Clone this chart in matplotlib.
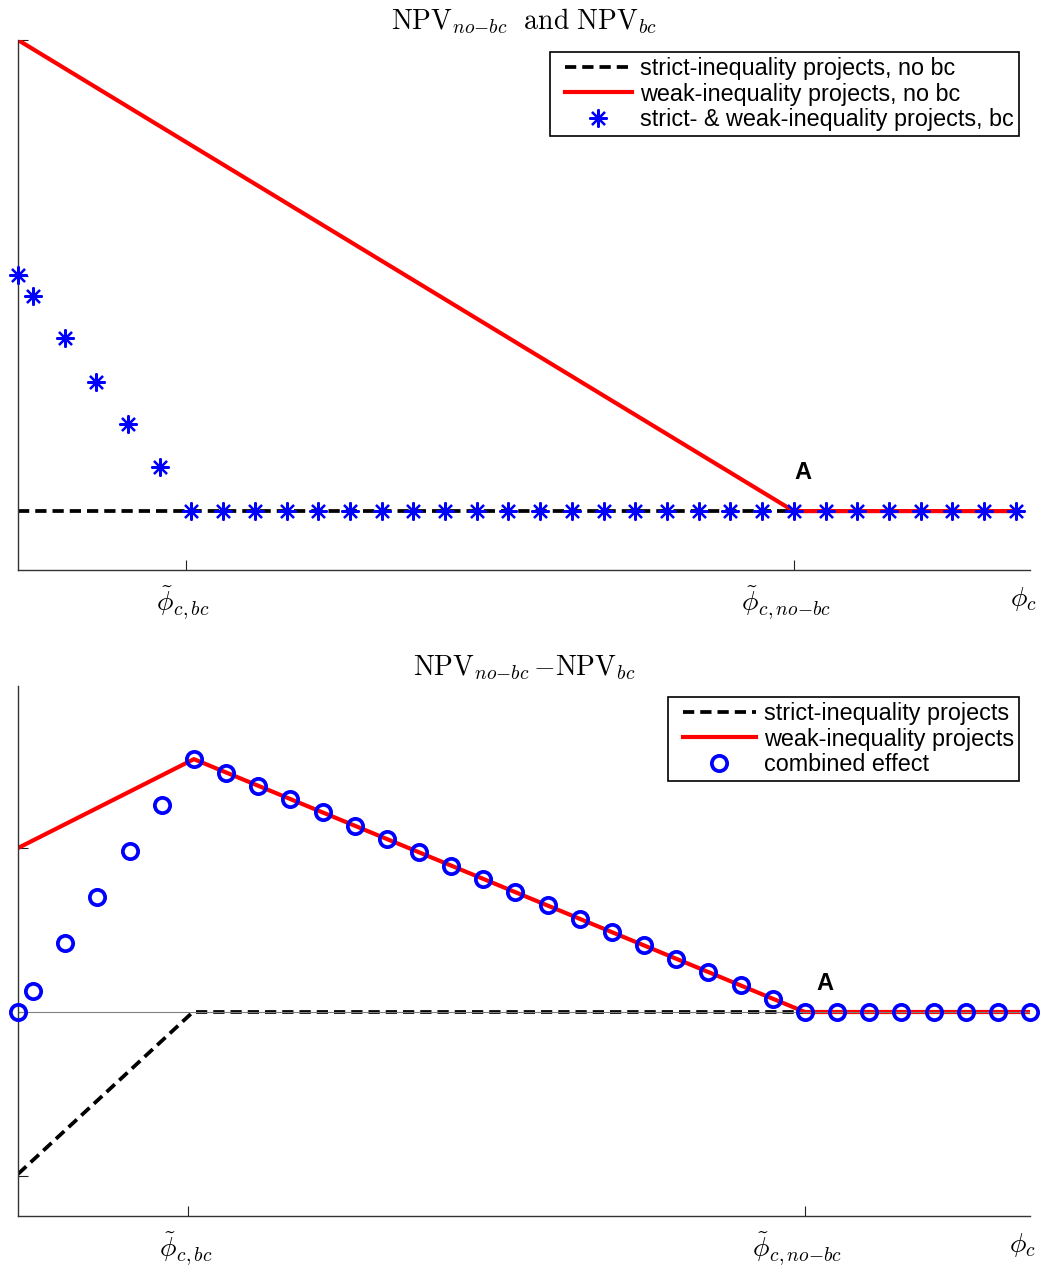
import matplotlib
matplotlib.use("Agg")
import matplotlib.pyplot as plt
from matplotlib.lines import Line2D
from matplotlib.legend_handler import HandlerLine2D
from matplotlib.transforms import ScaledTranslation

plt.rcParams['mathtext.fontset'] = 'cm'
plt.rcParams['font.family'] = ['Liberation Sans', 'DejaVu Sans']

# phi grid (arbitrary units, step = 1)
phi = [0.0, 0.47, 1.47, 2.47, 3.47, 4.47, 5.47, 6.47, 7.47, 8.47, 9.47, 10.47,
       11.47, 12.47, 13.47, 14.47, 15.47, 16.47, 17.47, 18.47, 19.47, 20.47,
       21.47, 22.47, 23.47, 24.47, 25.47, 26.47, 27.47, 28.47, 29.47, 30.47, 31.47]

phi_bc = 5.3
phi_nobc = 24.47

# top panel: NPV levels
strict_nobc_x = [0.0, 31.47]
strict_nobc_y = [0.0, 0.0]
weak_nobc_x = [0.0, 24.47, 31.47]
weak_nobc_y = [1.0, 0.0, 0.0]
bc_top = [0.501, 0.456, 0.367, 0.274, 0.185, 0.093, 0, 0, 0, 0, 0, 0, 0, 0, 0, 0,
          0, 0, 0, 0, 0, 0, 0, 0, 0, 0, 0, 0, 0, 0, 0, 0, 0]

# bottom panel: differences
strict_diff_x = [0.0, 5.44, 31.47]
strict_diff_y = [-0.494, 0.0, 0.0]
weak_diff_x = [0.0, 5.47, 24.47, 31.47]
weak_diff_y = [0.5, 0.771, 0.0, 0.0]
combined = [0.0, 0.064, 0.210, 0.351, 0.491, 0.631, 0.771, 0.730, 0.690, 0.649,
            0.609, 0.568, 0.527, 0.487, 0.446, 0.406, 0.365, 0.325, 0.284, 0.244,
            0.203, 0.162, 0.122, 0.081, 0.041, 0.0, 0, 0, 0, 0, 0, 0, 0]

xtick_labels = [r'$\tilde{\phi}_{c,bc}$', r'$\tilde{\phi}_{c,no{-}bc}$', r'$\phi_c$']

dash = (0, (3, 1.6))
star = (8, 2, 0)


def style_axes(ax, xticks, yticks):
    for s in ['top', 'right']:
        ax.spines[s].set_visible(False)
    for s in ['left', 'bottom']:
        ax.spines[s].set_color('#333333')
        ax.spines[s].set_linewidth(1.0)
    ax.set_xticks(xticks)
    ax.set_xticklabels(xtick_labels, fontsize=20)
    ax.set_yticks(yticks)
    ax.set_yticklabels([])
    ax.tick_params(direction='in', length=7, width=0.8, color='#222222')
    ax.tick_params(axis='x', pad=11)
    ax.xaxis.get_major_ticks()[2].tick1line.set_visible(False)
    # MATLAB-style offsets of the tex labels
    shifts = [-3, -8, 0]
    for lab, dx in zip(ax.get_xticklabels(), shifts):
        lab.set_transform(lab.get_transform() +
                          ScaledTranslation(dx / 100, 0, fig.dpi_scale_trans))


def add_legend(ax, anchor, hlen):
    leg = ax.legend(loc='upper right', bbox_to_anchor=anchor, borderaxespad=0,
                    fontsize=16.8, handlelength=hlen, handletextpad=0.35,
                    labelspacing=0.12, numpoints=1, fancybox=False, framealpha=1,
                    edgecolor='black', borderpad=0.2,
                    handler_map={Line2D: HandlerLine2D(xpad=0.42)})
    leg.get_frame().set_linewidth(1.2)
    return leg


fig = plt.figure(figsize=(10.42, 12.7), dpi=100)

# ---- top panel
ax1 = fig.add_axes([0.01727, 0.55118, 0.97121, 0.41732])
ax1.plot(strict_nobc_x, strict_nobc_y, color='black', lw=2.7, linestyle=dash,
         label='strict-inequality projects, no bc', zorder=2)
ax1.plot(weak_nobc_x, weak_nobc_y, color='red', lw=3,
         label='weak-inequality projects, no bc', zorder=2.2)
ax1.plot(phi, bc_top, linestyle='none', marker=star, ms=13, mew=1.6, color='blue',
         label='strict- & weak-inequality projects, bc', zorder=3, clip_on=False)
ax1.text(24.76, 0.083, 'A', fontsize=17, fontweight='bold', ha='center', va='center')
ax1.set_xlim(0, 31.92)
ax1.set_ylim(-0.125, 1.0)
style_axes(ax1, [phi_bc, phi_nobc, 31.7], [0, 0.5, 1.0])
ax1.set_title(r'$\mathrm{NPV}_{no{-}bc}\ \ \mathrm{and}\ \mathrm{NPV}_{bc}$', fontsize=20, pad=8)
add_legend(ax1, (0.989, 0.977), 3.32)

# ---- bottom panel
ax2 = fig.add_axes([0.01727, 0.04252, 0.97121, 0.41732])
ax2.plot(strict_diff_x, strict_diff_y, color='black', lw=2.7, linestyle=dash,
         label='strict-inequality projects', zorder=2)
ax2.plot(weak_diff_x, weak_diff_y, color='red', lw=3,
         label='weak-inequality projects', zorder=2.2)
ax2.axhline(0, color='#808080', lw=0.8, zorder=2.5)
ax2.plot(phi, combined, linestyle='none', marker='o', ms=11, mew=2.7, mfc='none',
         color='blue', label='combined effect', zorder=3, clip_on=False)
ax2.text(25.09, 0.088, 'A', fontsize=17, fontweight='bold', ha='center', va='center')
ax2.set_xlim(0, 31.47)
ax2.set_ylim(-0.622, 0.994)
style_axes(ax2, [phi_bc, phi_nobc, 31.25], [-0.5, 0, 0.5])
ax2.set_title(r'$\mathrm{NPV}_{no{-}bc}\,{-}\mathrm{NPV}_{bc}$', fontsize=20, pad=8)
add_legend(ax2, (0.989, 0.979), 3.55)

fig.savefig('out.png', dpi=100)
